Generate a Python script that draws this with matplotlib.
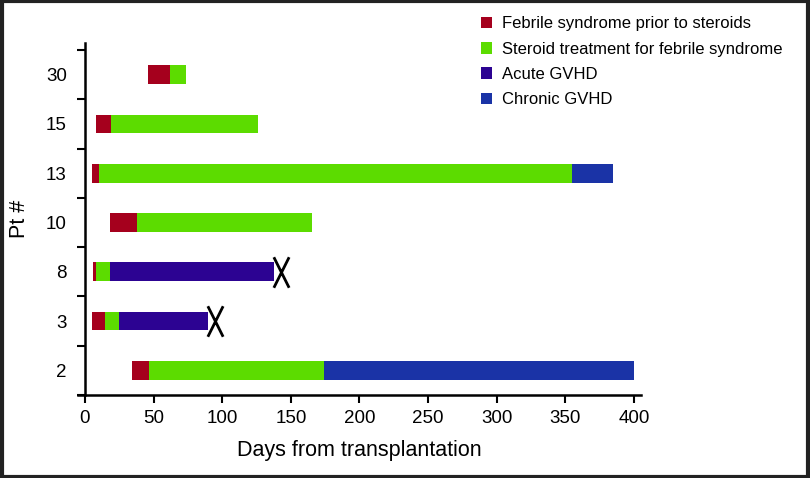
import numpy as np
import matplotlib
matplotlib.use("Agg")
import matplotlib.pyplot as plt
from matplotlib.patches import Rectangle
from matplotlib.path import Path

plt.rcParams['font.family'] = ['Liberation Sans', 'DejaVu Sans']

# patients from bottom to top
patients = ['2', '3', '8', '10', '13', '15', '30']

# phase boundaries in days from transplantation (0 = phase absent)
febrile_start = [34, 5, 6, 18, 5, 8, 46]
febrile_end = [47, 14.5, 8, 38, 10, 19, 62]
steroid_end = [174, 25, 18, 165.5, 355, 126, 74]
acute_end = [0, 90, 138, 0, 0, 0, 0]
chronic_end = [400, 0, 0, 0, 384.5, 0, 0]

# death marks
death_pt = ['3', '8']
death_day = [94.5, 143]

labels = ['Febrile syndrome prior to steroids',
          'Steroid treatment for febrile syndrome',
          'Acute GVHD', 'Chronic GVHD']
colors = ['#a5001d', '#5cdc00', '#2c0392', '#1a33a6']

fig = plt.figure(figsize=(8.1, 4.78), dpi=100)
ax = fig.add_axes([0.0963, 0.1736, 0.695, 0.7364])

y = np.arange(len(patients))
fs = np.array(febrile_start, dtype=float)
fe = np.array(febrile_end, dtype=float)
se = np.array(steroid_end, dtype=float)
ae = np.array(acute_end, dtype=float)
ce = np.array(chronic_end, dtype=float)

h = 0.38
ax.barh(y, fe - fs, left=fs, height=h, color=colors[0], label=labels[0])
ax.barh(y, se - fe, left=fe, height=h, color=colors[1], label=labels[1])
acute_w = np.where(ae > 0, ae - se, 0)
ax.barh(y, acute_w, left=se, height=h, color=colors[2], label=labels[2])
chronic_w = np.where(ce > 0, ce - se, 0)
ax.barh(y, chronic_w, left=se, height=h, color=colors[3], label=labels[3])

# tall narrow X marker for death
xmark = Path([(-0.5, -1), (0.5, 1), (-0.5, 1), (0.5, -1)],
             [Path.MOVETO, Path.LINETO, Path.MOVETO, Path.LINETO])
ax.plot(death_day, [patients.index(p) for p in death_pt], linestyle='none',
        marker=xmark, markersize=22, markeredgewidth=2, color='black')

ax.set_xlim(-5, 405)
ax.set_ylim(-0.5, 6.64)
ax.spines['top'].set_visible(False)
ax.spines['right'].set_visible(False)
ax.spines['left'].set_position(('data', 0))
ax.spines['left'].set_linewidth(1.8)
ax.spines['bottom'].set_linewidth(1.8)

ax.set_xticks(np.arange(0, 401, 50))
ax.set_yticks(np.arange(-0.5, 6.6, 1))
ax.set_yticklabels([])
ax.set_yticks(y, minor=True)
ax.set_yticklabels(patients, minor=True)
ax.tick_params(axis='y', which='minor', length=0, pad=13, labelsize=13.5)
ax.tick_params(axis='both', which='major', length=6, width=1.5, labelsize=13.5)
ax.tick_params(axis='x', pad=5)

ax.set_xlabel('Days from transplantation', fontsize=15.5, labelpad=9)
ax.set_ylabel('Pt #', fontsize=15.5, labelpad=0)
ax.yaxis.set_label_coords(-0.085, 0.5)

fig.legend(loc='upper left', bbox_to_anchor=(0.575, 0.997), frameon=False,
           fontsize=12, handlelength=0.7, handleheight=0.7, handletextpad=0.55,
           labelspacing=0.62)

fig.patches.append(Rectangle((0.002, 0.003), 0.996, 0.994, transform=fig.transFigure,
                             fill=False, edgecolor='#222222', linewidth=3))

fig.savefig('out.png', dpi=100)
